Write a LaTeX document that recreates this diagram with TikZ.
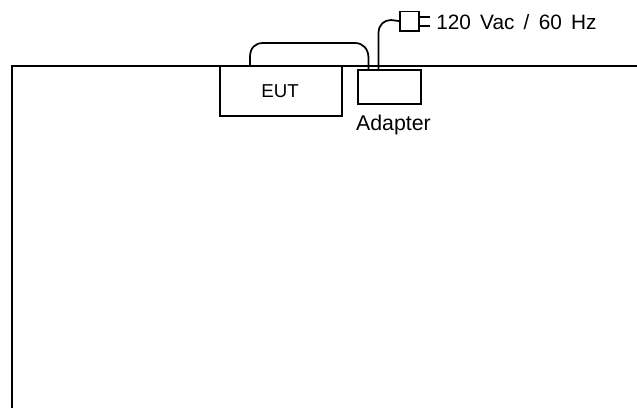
\documentclass[tikz,border=0pt]{standalone}
\usepackage{fontspec}
\setmainfont[WordSpace=1.6]{Liberation Sans}
\usetikzlibrary{calc}

\tikzset{
  wire/.style={line width=1.3pt},
  unit/.style={draw,line width=1.3pt,inner sep=0pt,outer sep=0pt,anchor=north west},
  lbl/.style={inner sep=0pt,font=\fontsize{15.6pt}{18pt}\selectfont}
}

\begin{document}
\begin{tikzpicture}[x=0.75pt,y=-0.75pt]
      \useasboundingbox (0,0) rectangle (637,408);

      \coordinate (TL) at (12,66);
      \coordinate (TR) at (637,66);
      \coordinate (BL) at (12,408);
      \draw [wire] (BL) -- (TL) -- (TR);

      \node [unit,minimum width=91.5pt,minimum height=37.5pt] (EUT) at (220,66) {};
      \node [lbl,font=\fontsize{14pt}{16pt}\selectfont] (EUTL) at (280,91) {EUT};

      \node [unit,minimum width=47pt,minimum height=25.5pt] (AD) at (358,70) {};
      \node [lbl,font=\fontsize{16pt}{18pt}\selectfont] (ADL) at (393.5,125) {Adapter};

      \node [unit,minimum width=14.5pt,minimum height=14.5pt] (PL) at (400,11.5) {};
      \node [lbl,anchor=west] (PWR) at (436,22) {120 Vac / 60 Hz};

      \coordinate (E1) at (250,66);
      \coordinate (A1) at (368.5,70);
      \coordinate (A2) at (378.5,70);
      \coordinate (P1) at (430,17);
      \coordinate (P2) at (430,26);

      \draw [wire] (E1) -- (250,57) .. controls (250,48) and (255,43) .. (263,43)
        -- (355,43) .. controls (363,43) and (368.5,49) .. (368.5,58) -- (A1);
      \draw [wire] (A2) -- (378.5,33) .. controls (378.5,25) and (384,20) .. (391,20)
        -- (PL.west);
      \draw [wire] (P1) -- (P1 -| PL.east);
      \draw [wire] (P2) -- (P2 -| PL.east);
  \end{tikzpicture}
\end{document}
